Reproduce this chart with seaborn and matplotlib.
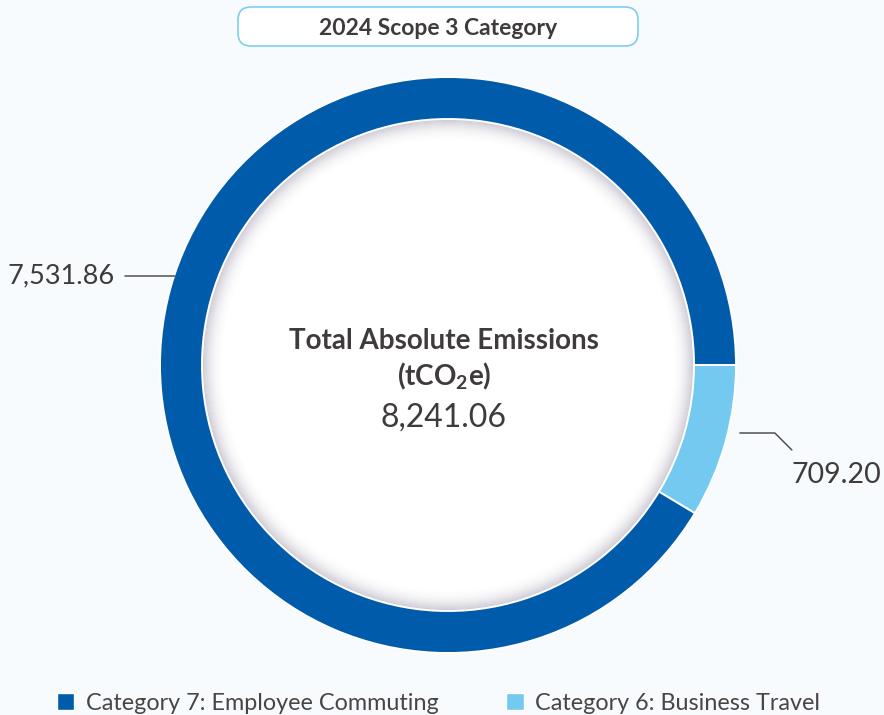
import matplotlib
matplotlib.use("Agg")
import numpy as np
import matplotlib.pyplot as plt
from matplotlib.patches import Circle, Wedge, FancyBboxPatch, Patch
import seaborn as sns

# Scope 3 emissions by category (tCO2e)
categories = ["Category 6: Business Travel", "Category 7: Employee Commuting"]
emissions = [709.20, 7531.86]
colors = ["#73C9F0", "#005BAA"]

chart_title = "2024 Scope 3 Category"
center_title = "Total Absolute Emissions"
center_unit = r"(tCO$_\mathregular{2}$e)"

sns.set_theme(style="white")
plt.rcParams["font.family"] = ["Lato", "DejaVu Sans"]

BG = "#F7FBFE"
TEXT = "#403B3B"
W, H = 884, 715

fig = plt.figure(figsize=(W / 100, H / 100), dpi=100, facecolor=BG)
ax = fig.add_axes([0, 0, 1, 1])
ax.set_facecolor(BG)

cx, cy = 448, H - 365
R, ring = 288, 42
r_in = R - ring

wedges, _ = ax.pie(
    emissions, colors=colors, startangle=0, counterclock=False,
    radius=R, center=(cx, cy),
    wedgeprops=dict(width=ring, edgecolor="white", linewidth=1.4),
)
for w in wedges:
    w.set_zorder(3)

# white centre with a soft inner shadow
ax.add_patch(Circle((cx, cy), r_in, facecolor="white", edgecolor="none", zorder=1))
n = 22
for i in range(n):
    a = 0.40 * (1 - i / n) ** 2.2
    ax.add_patch(Wedge((cx, cy), r_in - i, 0, 360, width=1.0,
                       facecolor="#7E7590", edgecolor="none", alpha=a, zorder=2))

ax.set_xlim(0, W)
ax.set_ylim(0, H)
ax.set_aspect("equal")
ax.axis("off")

# value labels with leader lines
def ring_x(y, side):
    dy = y - cy
    return cx + side * np.sqrt(R ** 2 - dy ** 2)

y_left = H - 276
x0 = ring_x(y_left, -1)
ax.plot([x0 + 1, 125], [y_left, y_left], color="#555050", lw=1.1, zorder=4)
ax.text(115, y_left, f"{emissions[1]:,.2f}", ha="right", va="center",
        fontsize=19.5, color=TEXT, zorder=4)

y_right = H - 433
x1 = ring_x(y_right, 1) + 12
ax.plot([x1, x1 + 35, x1 + 52], [y_right, y_right, y_right - 17],
        color="#555050", lw=1.1, zorder=4)
ax.text(x1 + 52, H - 475, f"{emissions[0]:,.2f}", ha="left", va="center",
        fontsize=20.5, color=TEXT, zorder=4)

# centre text
total = sum(emissions)
ax.text(cx - 4, H - 341, center_title, ha="center", va="center",
        fontsize=20, fontweight="bold", color=TEXT, zorder=4)
ax.text(cx - 4, H - 376, center_unit, ha="center", va="center",
        fontsize=20, fontweight="bold", color=TEXT, zorder=4)
ax.text(cx - 4, H - 418, f"{total:,.2f}", ha="center", va="center",
        fontsize=23, color=TEXT, zorder=4)

# title pill
box = FancyBboxPatch((238, H - 46), 400, 39,
                     boxstyle="round,pad=0,rounding_size=13",
                     facecolor="white", edgecolor="#7FCDF0", linewidth=1.2, zorder=4)
ax.add_patch(box)
ax.text(438, H - 28.5, chart_title, ha="center", va="center",
        fontsize=16.5, fontweight="bold", color=TEXT, zorder=5)

# legend
handles = [Patch(facecolor=colors[1]), Patch(facecolor=colors[0])]
labels = [categories[1], categories[0]]
leg = ax.legend(handles, labels, ncol=2, loc="center",
                bbox_to_anchor=(438.5 / W, 1 - 703.5 / H), frameon=False,
                fontsize=16.8, handlelength=0.75, handleheight=0.75,
                handletextpad=0.5, columnspacing=2.9, labelcolor="#4A4545")

fig.savefig("out.png", dpi=100, facecolor=BG)
